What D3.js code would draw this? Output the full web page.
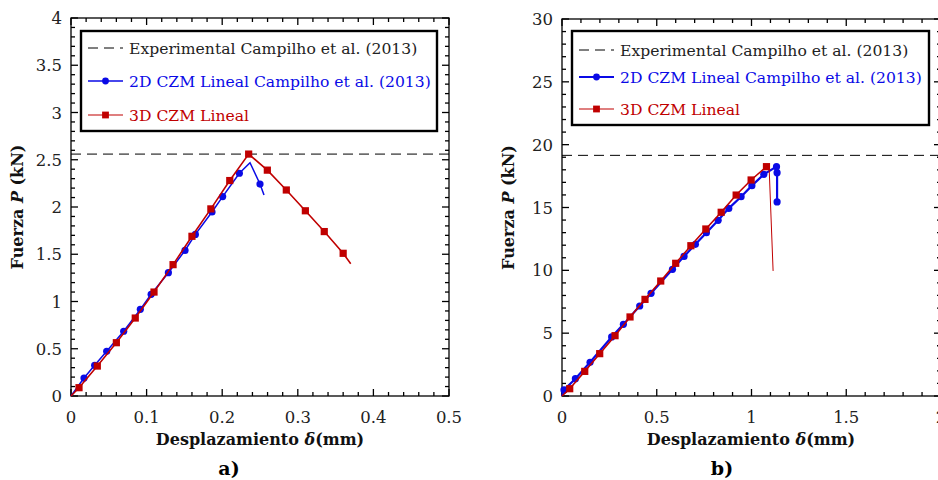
<!DOCTYPE html>
<html>
<head>
<meta charset="UTF-8" />
<title>Fuerza - Desplazamiento</title>
<script src="https://cdnjs.cloudflare.com/ajax/libs/d3/7.8.5/d3.min.js"></script>
<style>
  body { margin: 0; background: #fff; }
  svg { display: block; }
  text { font-family: "DejaVu Serif", "Liberation Serif", serif; }
</style>
</head>
<body>
<svg id="chart" width="938" height="480"></svg>
<script>
// ---- data ----
// panel a)
var aExpP = 2.56;
var a2dX = [0, 0.0172, 0.0313, 0.0472, 0.0697, 0.0917, 0.106, 0.1288, 0.1508, 0.1645, 0.1865, 0.2006, 0.2227, 0.2368, 0.250, 0.2553];
var a2dP = [0, 0.19, 0.325, 0.473, 0.685, 0.917, 1.076, 1.305, 1.54, 1.71, 1.947, 2.11, 2.357, 2.469, 2.243, 2.127];
var a2dMark = [0, 1, 1, 1, 1, 1, 1, 1, 1, 1, 1, 1, 1, 0, 1, 0];
var a3dX = [0, 0.0106, 0.0348, 0.060, 0.085, 0.1098, 0.135, 0.160, 0.185, 0.210, 0.235, 0.2597, 0.2848, 0.310, 0.335, 0.360, 0.370];
var a3dP = [0, 0.088, 0.317, 0.564, 0.825, 1.10, 1.39, 1.69, 1.98, 2.28, 2.56, 2.39, 2.18, 1.96, 1.74, 1.51, 1.40];
var a3dMark = [0, 1, 1, 1, 1, 1, 1, 1, 1, 1, 1, 1, 1, 1, 1, 1, 0];

// panel b)
var bExpP = 19.15;
var b2dX = [0, 0.0106, 0.0707, 0.148, 0.262, 0.324, 0.410, 0.470, 0.583, 0.644, 0.704, 0.762, 0.824, 0.880, 0.945, 1.002, 1.065, 1.132, 1.135, 1.135];
var b2dP = [0, 0.48, 1.38, 2.68, 4.70, 5.70, 7.16, 8.17, 10.08, 11.11, 12.07, 13.00, 13.98, 14.93, 15.86, 16.74, 17.64, 18.25, 17.77, 15.44];
var b2dMark = [0, 1, 1, 1, 1, 1, 1, 1, 1, 1, 1, 1, 1, 1, 1, 1, 1, 1, 1, 1];
var b3dX = [0, 0.0407, 0.120, 0.199, 0.280, 0.359, 0.438, 0.521, 0.600, 0.680, 0.759, 0.840, 0.919, 0.998, 1.079, 1.093];
var b3dP = [0, 0.58, 1.96, 3.37, 4.80, 6.29, 7.69, 9.15, 10.56, 11.96, 13.29, 14.62, 15.99, 17.19, 18.25, 18.2];
var b3dMark = [0, 1, 1, 1, 1, 1, 1, 1, 1, 1, 1, 1, 1, 1, 1, 0];
var b3dDropX = [1.093, 1.114];
var b3dDropP = [18.2, 9.95];

var legendLabels = ["Experimental Campilho et al. (2013)", "2D CZM Lineal Campilho et al. (2013)", "3D CZM Lineal"];
var aXTicks = [0, 0.1, 0.2, 0.3, 0.4, 0.5];
var aYTicks = [0, 0.5, 1, 1.5, 2, 2.5, 3, 3.5, 4];
var bXTicks = [0, 0.5, 1, 1.5, 2];
var bYTicks = [0, 5, 10, 15, 20, 25, 30];

var BLUE = "#0a0ae6", RED = "#c00000";
var svg = d3.select("#chart");

function zip(xs, ys, ms) {
  return xs.map(function(x, i) { return { x: x, y: ys[i], m: ms ? ms[i] : 0 }; });
}

function drawPanel(o) {
  var x = d3.scaleLinear().domain(o.xDom).range([o.left, o.right]);
  var y = d3.scaleLinear().domain(o.yDom).range([o.bottom, o.top]);
  var g = svg.append("g");

  // minor + major ticks, all four sides, pointing inward
  var xMinor = d3.range(o.xDom[0], o.xDom[1] + 1e-9, o.xMinor);
  var yMinor = d3.range(o.yDom[0], o.yDom[1] + 1e-9, o.yMinor);
  function isMajor(v, step) { return Math.abs(v / step - Math.round(v / step)) < 1e-6; }
  xMinor.forEach(function(v) {
    var len = isMajor(v, o.xMajor) ? 7 : 4;
    g.append("line").attr("x1", x(v)).attr("x2", x(v)).attr("y1", o.bottom).attr("y2", o.bottom - len)
      .attr("stroke", "#000").attr("stroke-width", 1.3);
    g.append("line").attr("x1", x(v)).attr("x2", x(v)).attr("y1", o.top).attr("y2", o.top + len)
      .attr("stroke", "#000").attr("stroke-width", 1.3);
  });
  yMinor.forEach(function(v) {
    var len = isMajor(v, o.yMajor) ? 7 : 4;
    g.append("line").attr("y1", y(v)).attr("y2", y(v)).attr("x1", o.left).attr("x2", o.left + len)
      .attr("stroke", "#000").attr("stroke-width", 1.3);
    g.append("line").attr("y1", y(v)).attr("y2", y(v)).attr("x1", o.right).attr("x2", o.right - len)
      .attr("stroke", "#000").attr("stroke-width", 1.3);
  });
  g.append("rect").attr("x", o.left).attr("y", o.top)
    .attr("width", o.right - o.left).attr("height", o.bottom - o.top)
    .attr("fill", "none").attr("stroke", "#000").attr("stroke-width", 1.3);

  // tick labels
  g.selectAll(".xl").data(o.xTicks).enter().append("text")
    .attr("x", function(d) { return x(d); }).attr("y", o.bottom + 27)
    .attr("text-anchor", "middle").attr("font-size", 16.5).attr("fill", "#222")
    .text(function(d) { return d; });
  g.selectAll(".yl").data(o.yTicks).enter().append("text")
    .attr("x", o.left - 9).attr("y", function(d) { return y(d) + 6; })
    .attr("text-anchor", "end").attr("font-size", 16.5).attr("fill", "#222")
    .text(function(d) { return d; });

  // axis titles
  var xt = g.append("text").attr("x", (o.left + Math.min(o.right, 938)) / 2 + o.xTitleShift).attr("y", o.bottom + 49)
    .attr("text-anchor", "middle").attr("font-size", 16).attr("font-weight", "bold").attr("fill", "#111");
  xt.append("tspan").text("Desplazamiento ");
  xt.append("tspan").attr("font-style", "italic").text("δ");
  xt.append("tspan").text("(mm)");
  var yt = g.append("text").attr("transform", "translate(" + (o.left - 48) + "," + ((o.top + o.bottom) / 2) + ") rotate(-90)")
    .attr("text-anchor", "middle").attr("font-size", 16).attr("font-weight", "bold").attr("fill", "#111");
  yt.append("tspan").text("Fuerza ");
  yt.append("tspan").attr("font-style", "italic").text("P");
  yt.append("tspan").text(" (kN)");

  g.append("text").attr("x", o.tagX).attr("y", 475).attr("text-anchor", "middle")
    .attr("font-size", 19).attr("font-weight", "bold").text(o.tag);

  // experimental dashed line
  g.append("line").attr("x1", o.left).attr("x2", o.right)
    .attr("y1", y(o.exp)).attr("y2", y(o.exp))
    .attr("stroke", "#000").attr("stroke-width", 1).attr("stroke-dasharray", "10,6");

  var line = d3.line().x(function(d) { return x(d.x); }).y(function(d) { return y(d.y); });

  // 2D series
  var s2 = zip(o.x2, o.p2, o.m2);
  g.append("path").datum(s2).attr("d", line).attr("fill", "none")
    .attr("stroke", BLUE).attr("stroke-width", o.w2);
  g.selectAll(".c2").data(s2.filter(function(d) { return d.m; })).enter().append("circle")
    .attr("cx", function(d) { return x(d.x); }).attr("cy", function(d) { return y(d.y); })
    .attr("r", 3.6).attr("fill", BLUE);

  // 3D series
  var s3 = zip(o.x3, o.p3, o.m3);
  g.append("path").datum(s3).attr("d", line).attr("fill", "none")
    .attr("stroke", RED).attr("stroke-width", 1.6);
  if (o.drop) {
    g.append("path").datum(zip(o.drop[0], o.drop[1])).attr("d", line).attr("fill", "none")
      .attr("stroke", RED).attr("stroke-width", 1);
  }
  g.selectAll(".s3").data(s3.filter(function(d) { return d.m; })).enter().append("rect")
    .attr("x", function(d) { return x(d.x) - 3.6; }).attr("y", function(d) { return y(d.y) - 3.6; })
    .attr("width", 7.2).attr("height", 7.2).attr("fill", RED);

  // legend
  var L = o.legend;
  g.append("rect").attr("x", L.x).attr("y", L.y).attr("width", L.w).attr("height", L.h)
    .attr("fill", "#fff").attr("stroke", "#000").attr("stroke-width", 2.4);
  var lx0 = L.x + 7, lx1 = L.x + 42, tx = L.x + 48;
  // row 1
  g.append("line").attr("x1", lx0).attr("x2", lx1).attr("y1", L.rows[0]).attr("y2", L.rows[0])
    .attr("stroke", "#000").attr("stroke-width", 1).attr("stroke-dasharray", "10,6");
  // row 2
  g.append("line").attr("x1", lx0).attr("x2", lx1).attr("y1", L.rows[1]).attr("y2", L.rows[1])
    .attr("stroke", BLUE).attr("stroke-width", o.w2);
  g.append("circle").attr("cx", (lx0 + lx1) / 2).attr("cy", L.rows[1]).attr("r", 3.4).attr("fill", BLUE);
  // row 3
  g.append("line").attr("x1", lx0).attr("x2", lx1).attr("y1", L.rows[2]).attr("y2", L.rows[2])
    .attr("stroke", RED).attr("stroke-width", 1.2);
  g.append("rect").attr("x", (lx0 + lx1) / 2 - 3.4).attr("y", L.rows[2] - 3.4)
    .attr("width", 6.8).attr("height", 6.8).attr("fill", RED);
  var cols = ["#222", BLUE, RED];
  legendLabels.forEach(function(t, i) {
    g.append("text").attr("x", tx).attr("y", L.rows[i] + 6).attr("font-size", L.fs)
      .attr("fill", cols[i]).text(t);
  });
}

drawPanel({
  left: 71, right: 449, top: 18, bottom: 396,
  xDom: [0, 0.5], yDom: [0, 4], xMinor: 0.02, xMajor: 0.1, yMinor: 0.1, yMajor: 0.5,
  xTicks: aXTicks, yTicks: aYTicks, exp: aExpP,
  x2: a2dX, p2: a2dP, m2: a2dMark, x3: a3dX, p3: a3dP, m3: a3dMark, w2: 1.5,
  tag: "a)", tagX: 229, xTitleShift: 0,
  legend: { x: 81, y: 31, w: 356, h: 100, rows: [48, 81, 115], fs: 15.6 }
});
drawPanel({
  left: 562, right: 941, top: 19, bottom: 396,
  xDom: [0, 2], yDom: [0, 30], xMinor: 0.1, xMajor: 0.5, yMinor: 1, yMajor: 5,
  xTicks: bXTicks, yTicks: bYTicks, exp: bExpP,
  x2: b2dX, p2: b2dP, m2: b2dMark, x3: b3dX, p3: b3dP, m3: b3dMark, w2: 2.2,
  drop: [b3dDropX, b3dDropP],
  tag: "b)", tagX: 722, xTitleShift: 1,
  legend: { x: 572, y: 31, w: 357, h: 94, rows: [50, 77, 109], fs: 15.6 }
});
</script>
</body>
</html>
